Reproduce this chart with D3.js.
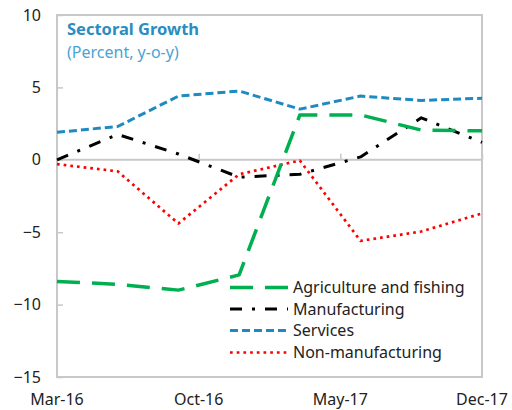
<!DOCTYPE html>
<html><head><meta charset="utf-8">
<script src="https://cdn.jsdelivr.net/npm/d3@7"></script>
<style>body{margin:0;background:#fff}svg{display:block}</style>
</head><body>
<svg id="c" width="512" height="410"></svg>
<script>
const dates = ["Mar-16","Jun-16","Sep-16","Dec-16","Mar-17","Jun-17","Sep-17","Dec-17"];
const monthIndex = [0,3,6,9,12,15,18,21];
const xTickLabels = ["Mar-16","Oct-16","May-17","Dec-17"];
const xTickIndex = [0,7,14,21];
const yTicks = [-15,-10,-5,0,5,10];
const agriculture = [-8.4,-8.6,-9.0,-7.95,3.1,3.1,2.05,2.0];
const manufacturing = [0.0,1.75,0.4,-1.2,-1.0,0.2,2.9,1.2];
const services = [1.9,2.3,4.4,4.75,3.5,4.4,4.1,4.25];
const nonManufacturing = [-0.3,-0.8,-4.4,-1.0,-0.05,-5.6,-4.95,-3.7];

const seriesNames = ["Agriculture and fishing","Manufacturing","Services","Non-manufacturing"];
const seriesData = [agriculture, manufacturing, services, nonManufacturing];
const styles = [
  {color:"#00b050", w:3.5, dash:"23,12"},
  {color:"#000000", w:3, dash:"12,10,3,10"},
  {color:"#1f8ac2", w:3, dash:"8,4"},
  {color:"#ff0000", w:2.7, dash:"2.7,4"}
];

const svg = d3.select("#c");
const L=57, R=482, T=15, B=377;
const x = d3.scaleLinear().domain([0,21]).range([L,R]);
const y = d3.scaleLinear().domain([-15,10]).range([B,T]);
const font = "'Noto Sans', 'Open Sans', sans-serif";

svg.append("rect").attr("x",L).attr("y",T).attr("width",R-L).attr("height",B-T)
  .attr("fill","none").attr("stroke","#c8c8c8").attr("stroke-width",2);
svg.append("line").attr("x1",L).attr("x2",R).attr("y1",y(0)).attr("y2",y(0))
  .attr("stroke","#c8c8c8").attr("stroke-width",2);
const yAxis = svg.append("g").attr("transform",`translate(${L},0)`)
  .call(d3.axisLeft(y).tickValues(yTicks).tickSize(-6).tickPadding(16).tickFormat(d3.format("d")));
yAxis.select(".domain").remove();
yAxis.selectAll("line").attr("stroke","#c8c8c8").attr("stroke-width",1.5);
yAxis.selectAll("text").attr("font-family",font).attr("font-size",16).attr("fill","#222");
const xAxis = svg.append("g").attr("transform",`translate(0,${y(0)})`)
  .call(d3.axisTop(x).tickValues(xTickIndex).tickSize(6).tickFormat(""));
xAxis.select(".domain").remove();
xAxis.selectAll("line").attr("stroke","#c8c8c8").attr("stroke-width",1.5);
svg.append("g").selectAll("text").data(xTickIndex).join("text")
  .attr("x",d=>x(d)).attr("y",405).attr("text-anchor","middle")
  .attr("font-family",font).attr("font-size",16).attr("fill","#222")
  .text((d,i)=>xTickLabels[i]);

const line = d3.line().x((d,i)=>x(monthIndex[i])).y(d=>y(d));
const order = [2,3,1,0];
order.forEach(k=>{
  svg.append("path").datum(seriesData[k]).attr("d",line)
    .attr("fill","none").attr("stroke",styles[k].color).attr("stroke-width",styles[k].w)
    .attr("stroke-dasharray",styles[k].dash).attr("stroke-linejoin","round");
});

const legY = [287.5,309,330.5,352.5];
seriesNames.forEach((n,k)=>{
  svg.append("line").attr("x1",230).attr("x2",288).attr("y1",legY[k]).attr("y2",legY[k])
    .attr("stroke",styles[k].color).attr("stroke-width",styles[k].w)
    .attr("stroke-dasharray",styles[k].dash);
  svg.append("text").attr("x",293).attr("y",legY[k]+5.5)
    .attr("font-family",font).attr("font-size",16).attr("fill","#222").text(n);
});

svg.append("text").attr("x",67).attr("y",35).attr("font-family",font).attr("font-weight","bold")
  .attr("font-size",16.5).attr("fill","#2a8dbf").text("Sectoral Growth");
svg.append("text").attr("x",67).attr("y",58).attr("font-family",font)
  .attr("font-size",16).attr("fill","#4aa3d4").text("(Percent, y-o-y)");
</script>
</body></html>
